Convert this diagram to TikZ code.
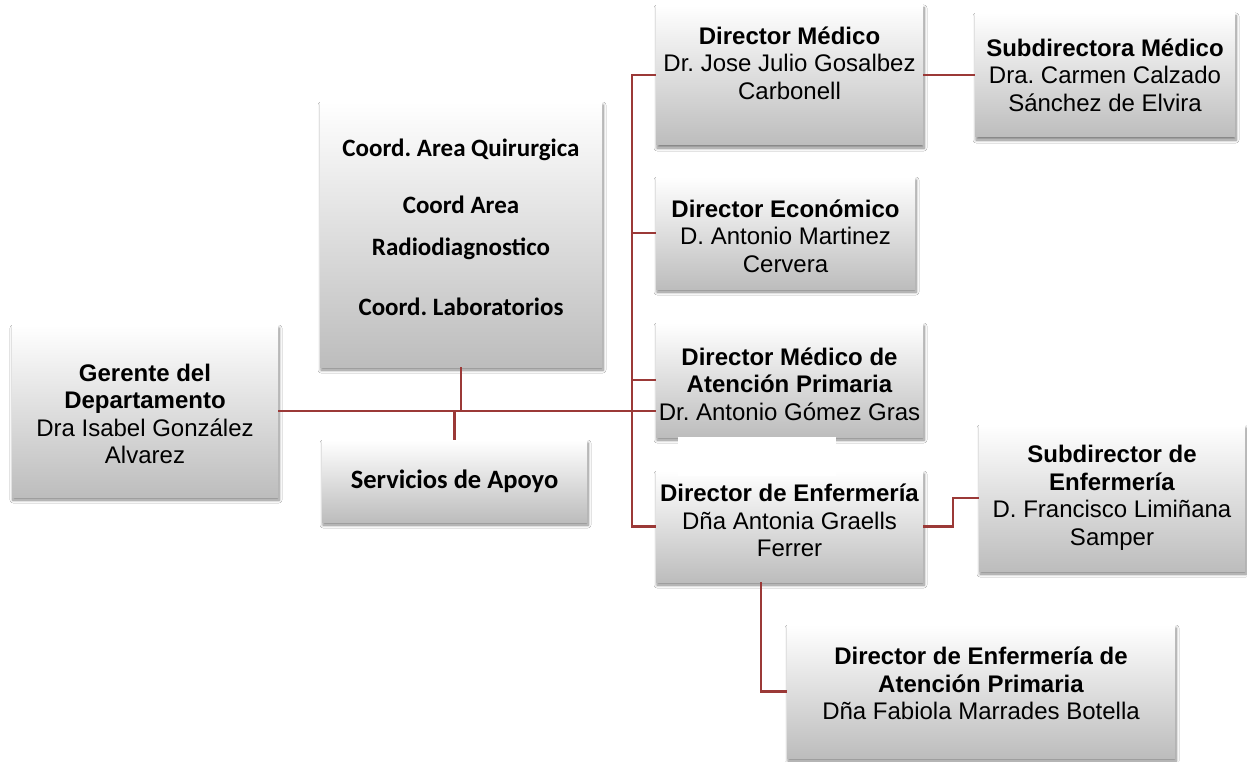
\documentclass[tikz,border=0pt]{standalone}
\usepackage{fontspec}
\setmainfont{Liberation Sans}
\newfontfamily\calfont{Carlito}
\usetikzlibrary{shadows.blur}
\definecolor{lnkc}{RGB}{155,57,55}
\frenchspacing
\newcommand\orgbox[8]{%
  \node[box, minimum width=#4pt, minimum height=#5pt] (#1) at (#2,#3) {};
  \node[#7, yshift=#6pt] (#1-t) at (#1.center) {#8};}
\begin{document}
\begin{tikzpicture}[x=1pt, y=-1pt,
  box/.style={top color=white, bottom color=gray!52, draw=none, inner sep=0pt,
    blur shadow={shadow xshift=1pt, shadow yshift=-3pt, shadow blur radius=3pt,
      shadow blur steps=6, shadow opacity=50}},
  txt/.style={align=center, inner sep=0pt, font=\frenchspacing\fontsize{24}{27.5}\selectfont},
  ctxt/.style={align=center, inner sep=0pt, font=\frenchspacing\calfont\bfseries\fontsize{25}{42}\selectfont},
  stxt/.style={align=center, inner sep=0pt, font=\frenchspacing\calfont\bfseries\fontsize{26.5}{32}\selectfont},
  lnk/.style={draw=lnkc, line width=2.5pt}]
\useasboundingbox[fill=white] (0,0) rectangle (1247,762);

\orgbox{ger}{145}{411}{266}{172}{-3}{txt}{\textbf{Gerente del}\\\textbf{Departamento}\\Dra Isabel González\\Alvarez}
\orgbox{coord}{461}{234.5}{282}{265}{7}{ctxt}{Coord. Area Quirurgica\\[15pt]Coord Area\\Radiodiagnostico\\[18pt]Coord. Laboratorios}
\orgbox{serv}{454.5}{481}{265}{82}{0}{stxt}{Servicios de Apoyo}
\orgbox{dm}{789.5}{75}{267}{140}{12}{txt}{\textbf{Director Médico}\\Dr. Jose Julio Gosalbez\\Carbonell}
\orgbox{sm}{1105}{75}{260}{124}{0}{txt}{\textbf{Subdirectora Médico}\\Dra. Carmen Calzado\\Sánchez de Elvira}
\orgbox{ec}{785.5}{233}{259}{112}{-3}{txt}{\textbf{Director Económico}\\D. Antonio Martinez\\Cervera}
\orgbox{map}{789.5}{380}{267}{114}{-4}{txt}{\textbf{Director Médico de}\\\textbf{Atención Primaria}\\Dr. Antonio Gómez Gras}
\orgbox{de}{789.5}{526.5}{267}{111}{6}{txt}{\textbf{Director de Enfermería}\\Dña Antonia Graells\\Ferrer}
\orgbox{se}{1112}{498}{266}{146}{0}{txt}{\textbf{Subdirector de}\\\textbf{Enfermería}\\D. Francisco Limiñana\\Samper}
\orgbox{ea}{981}{691.5}{388}{133}{8}{txt}{\textbf{Director de Enfermería de}\\\textbf{Atención Primaria}\\Dña Fabiola Marrades Botella}

\fill[white] (678,437) rectangle (836,476);

\coordinate (tr) at (632,0);
\coordinate (kd) at (761,0);
\draw[lnk] (ger.east) -- (ger.east -| map.west);
\draw[lnk] (coord.south) -- (coord.south |- ger.east);
\draw[lnk] (serv.north) -- (serv.north |- ger.east);
\draw[lnk] (dm.west) -- (dm.west -| tr) -- (de.west -| tr) -- (de.west);
\draw[lnk] (ec.west) -- (ec.west -| tr);
\draw[lnk] (map.west) -- (map.west -| tr);
\draw[lnk] (dm.east) -- (sm.west);
\draw[lnk] (de.east) -- ++(30,0) |- (se.west);
\draw[lnk] (de.south -| kd) |- (ea.west);
\end{tikzpicture}
\end{document}
